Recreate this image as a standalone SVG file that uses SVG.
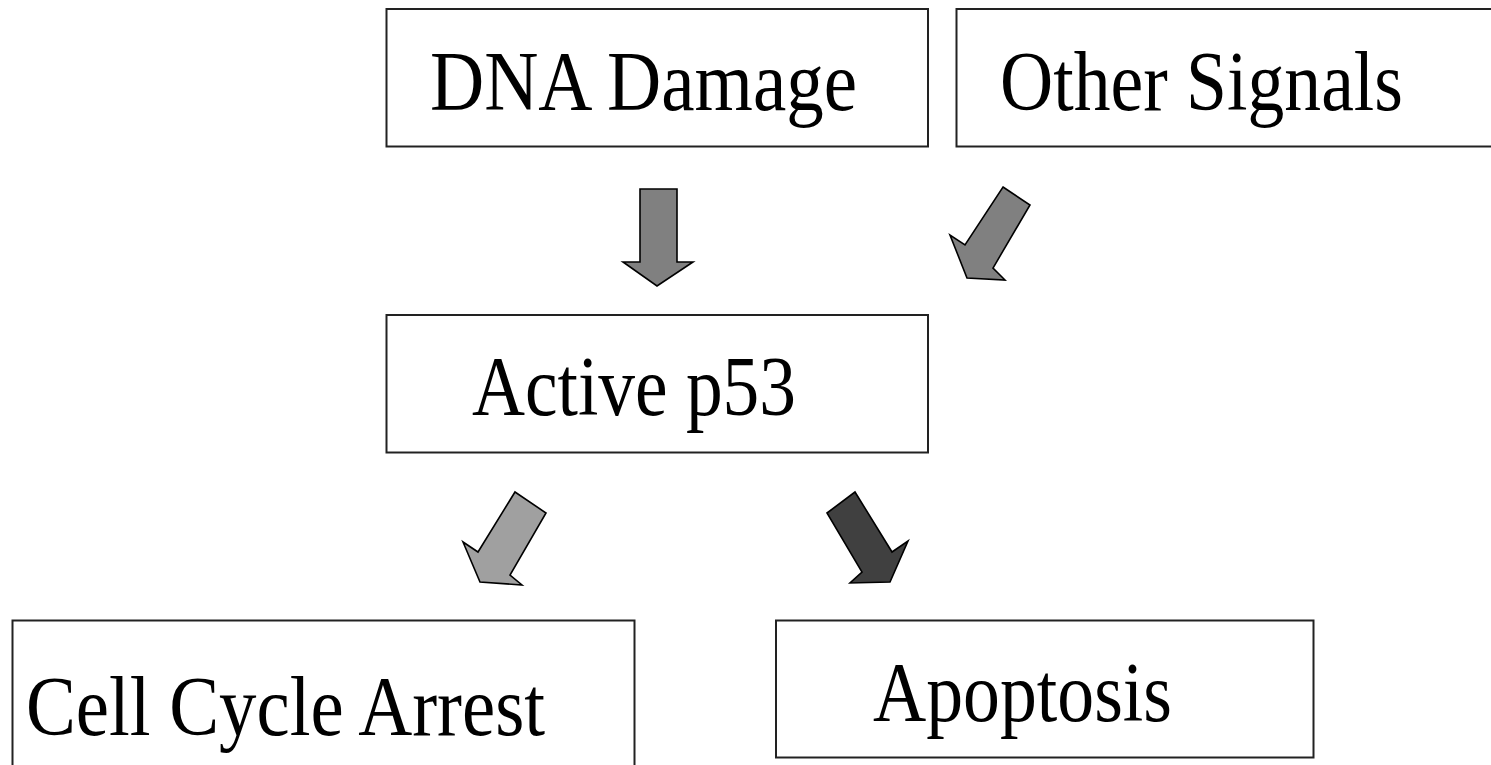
<svg xmlns="http://www.w3.org/2000/svg" width="1491" height="765" viewBox="0 0 1491 765">
<style>
.box{fill:#fff;stroke:#222;stroke-width:2}
.lbl{font-family:"Liberation Serif","Times New Roman",serif;font-size:85px;fill:#000}
.arr{stroke:#000;stroke-width:1.6;stroke-linejoin:miter}
</style>
<rect width="1491" height="765" fill="#fff"/>
<g id="node-dna">
<rect class="box" x="386.5" y="9" width="541.5" height="137.5"/>
<text class="lbl" x="430" y="110" textLength="427" lengthAdjust="spacingAndGlyphs">DNA Damage</text>
</g>
<g id="node-other">
<rect class="box" x="956.5" y="9" width="560" height="137.5"/>
<text class="lbl" x="1000" y="110" textLength="403" lengthAdjust="spacingAndGlyphs">Other Signals</text>
</g>
<g id="node-p53">
<rect class="box" x="386.5" y="315" width="541.5" height="137.5"/>
<text class="lbl" x="472" y="415" textLength="324" lengthAdjust="spacingAndGlyphs">Active p53</text>
</g>
<g id="node-arrest">
<rect class="box" x="12.5" y="620.5" width="622" height="160"/>
<text class="lbl" x="26" y="735" textLength="519" lengthAdjust="spacingAndGlyphs">Cell Cycle Arrest</text>
</g>
<g id="node-apoptosis">
<rect class="box" x="776" y="620.5" width="537.5" height="137"/>
<text class="lbl" x="873" y="721" textLength="299" lengthAdjust="spacingAndGlyphs">Apoptosis</text>
</g>
<g id="connectors">
<polygon class="arr" fill="#808080" points="640,189 677,189 677,262 693,262 657,286 623,262 640,262"/>
<polygon class="arr" fill="#808080" points="1003,187 1030,205 993,268 1005,280 967,278 950,235 965,245"/>
<polygon class="arr" fill="#a0a0a0" points="515,492 546,513 510,575 522,585 480,582 463,542 478,552"/>
<polygon class="arr" fill="#404040" points="827,513 855,492 892,552 908,541 890,582 850,583 862,572"/>
</g>
</svg>
